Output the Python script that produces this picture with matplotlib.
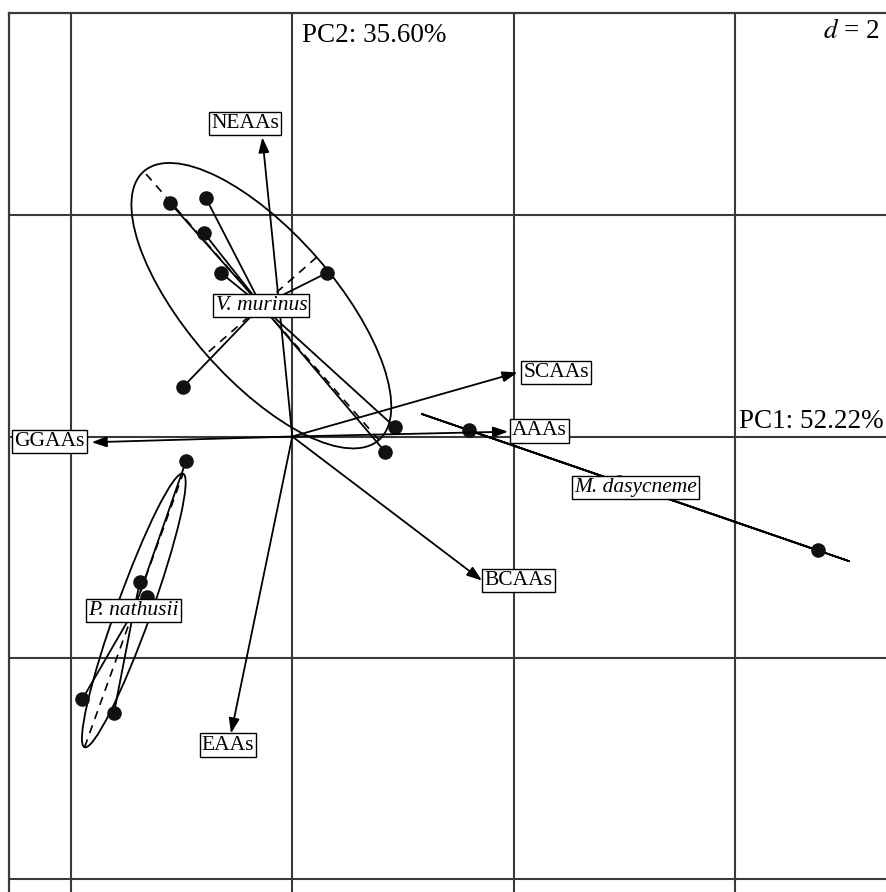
import numpy as np
import matplotlib
matplotlib.use("Agg")
import matplotlib.pyplot as plt
from matplotlib.patches import Ellipse, FancyArrowPatch

plt.rcParams['font.family'] = ['Liberation Serif', 'DejaVu Serif']
plt.rcParams['mathtext.fontset'] = 'stix'

# ---- data (PCA scores) ----
vmurinus_x = [-1.106, -0.783, -0.796, -0.647, 0.316, -0.991, 0.929, 0.838]
vmurinus_y = [2.114, 2.159, 1.837, 1.481, 1.481, 0.445, 0.083, -0.137]

pnathusii_x = [-0.961, -1.377, -1.316, -1.899, -1.612]
pnathusii_y = [-0.222, -1.313, -1.454, -2.376, -2.497]

# third point is hidden under the group label
mdasycneme_x = [1.600, 4.751, 2.954]
mdasycneme_y = [0.055, -1.030, -0.409]

groups = ["V. murinus", "P. nathusii", "M. dasycneme"]
group_x = [vmurinus_x, pnathusii_x, mdasycneme_x]
group_y = [vmurinus_y, pnathusii_y, mdasycneme_y]

var_names = ["NEAAs", "GGAAs", "EAAs", "SCAAs", "AAAs", "BCAAs"]
var_x = [-0.271, -1.814, -0.554, 2.036, 1.951, 1.715]
var_y = [2.705, -0.052, -2.684, 0.579, 0.044, -1.302]
# label box centres for the variables
var_lab_x = [-0.425, -2.194, -0.581, 2.384, 2.234, 2.045]
var_lab_y = [2.828, -0.045, -2.789, 0.579, 0.050, -1.300]

pc1_label = "PC1: 52.22%"
pc2_label = "PC2: 35.60%"
grid_d = 2

# ---- figure ----
W, H = 886, 892
fig = plt.figure(figsize=(W / 100, H / 100), dpi=100)
ax = fig.add_axes([9 / W, 0, (W - 9) / W, (H - 13) / H])
ax.set_xlim(-2.5615, 5.368)
ax.set_ylim(-4.118, 3.829)
ax.set_xticks([])
ax.set_yticks([])
for s in ['right', 'bottom']:
    ax.spines[s].set_visible(False)
for s in ['left', 'top']:
    ax.spines[s].set_color('#3a3a3a')
    ax.spines[s].set_linewidth(1.6)

gcol = '#3a3a3a'
for gx in np.arange(-2, 6, grid_d):
    ax.axvline(gx, color=gcol, lw=1.5, zorder=1)
for gy in np.arange(-4, 4, grid_d):
    ax.axhline(gy, color=gcol, lw=1.5, zorder=1)

lab_fs = 15.5

# ---- classes ----
for name, xs, ys in zip(groups, group_x, group_y):
    xs = np.array(xs); ys = np.array(ys)
    cx, cy = xs.mean(), ys.mean()
    cov = np.cov(np.vstack([xs, ys]), bias=True)
    vals, vecs = np.linalg.eigh(cov)
    order = np.argsort(vals)[::-1]
    vals = np.clip(vals[order], 0, None); vecs = vecs[:, order]
    a = 1.5 * np.sqrt(vals[0]); b = 1.5 * np.sqrt(vals[1])
    ang = np.degrees(np.arctan2(vecs[1, 0], vecs[0, 0]))
    ax.add_patch(Ellipse((cx, cy), 2 * a, max(2 * b, 1e-6), angle=ang,
                         fill=False, ec='black', lw=1.3, zorder=3))
    for k, r in ((0, a), (1, b)):
        v = vecs[:, k]
        ax.plot([cx - r * v[0], cx + r * v[0]], [cy - r * v[1], cy + r * v[1]],
                color='black', lw=1.2, ls=(0, (5, 4)), zorder=3)
    for px, py in zip(xs, ys):
        ax.plot([cx, px], [cy, py], color='black', lw=1.3, zorder=3)
    ax.scatter(xs, ys, s=110, color='#111111', zorder=4, linewidths=0)
    ax.text(cx, cy, name, ha='center', va='center', fontsize=lab_fs, style='italic',
            zorder=8,
            bbox=dict(boxstyle='square,pad=0.1', fc='white', ec='black', lw=1.0))

# ---- variable arrows ----
for name, vx, vy, lx, ly in zip(var_names, var_x, var_y, var_lab_x, var_lab_y):
    arr = FancyArrowPatch((0, 0), (vx, vy),
                          arrowstyle='-|>,head_length=0.45,head_width=0.16',
                          mutation_scale=20, color='black', lw=1.3,
                          shrinkA=0, shrinkB=0, zorder=5)
    ax.add_patch(arr)
    ax.text(lx, ly, name, ha='center', va='center', fontsize=lab_fs, zorder=9,
            bbox=dict(boxstyle='square,pad=0.1', fc='white', ec='black', lw=1.0))

# ---- axis labels ----
ax.text(0.09, 3.57, pc2_label, ha='left', va='baseline', fontsize=19.5, zorder=10)
ax.text(5.345, 0.078, pc1_label, ha='right', va='baseline', fontsize=19.5, zorder=10)
ax.text(5.31, 3.60, r'$d$ = 2', ha='right', va='baseline', fontsize=19.5, zorder=10)

fig.savefig('out.png', dpi=100)
